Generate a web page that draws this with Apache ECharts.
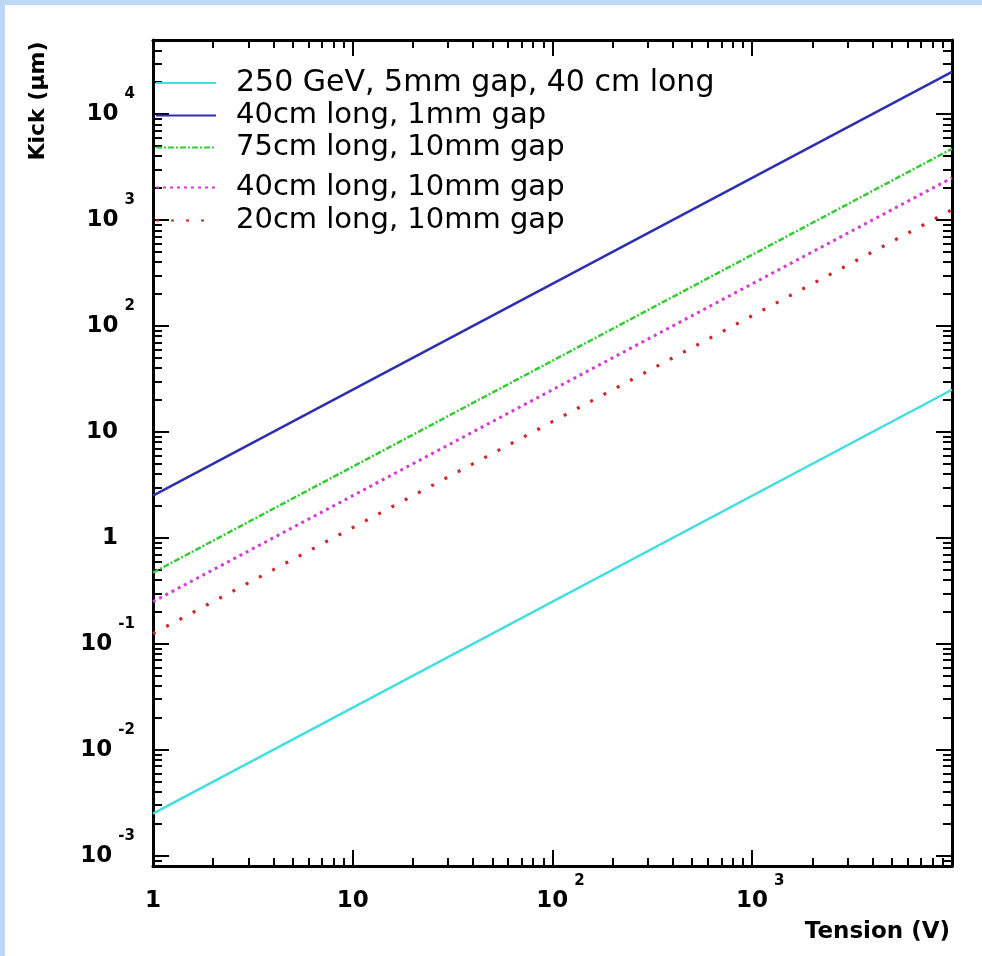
<!DOCTYPE html>
<html><head><meta charset="utf-8">
<script src="https://cdn.jsdelivr.net/npm/echarts@6/dist/echarts.min.js"></script>
<style>html,body{margin:0;padding:0;background:#fff;} #c{width:982px;height:956px;}</style>
</head><body><div id="c"></div>
<script>
// ---- data ----
const tension = [1, 10000];                 // V (x extent of each straight line)
const kick250GeV = [0.0025, 25];            // um
const kick40cm1mm = [2.5, 25000];
const kick75cm10mm = [0.47, 4700];
const kick40cm10mm = [0.25, 2500];
const kick20cm10mm = [0.125, 1250];
const seriesNames = ['250 GeV, 5mm gap, 40 cm long', '40cm long, 1mm gap', '75cm long, 10mm gap', '40cm long, 10mm gap', '20cm long, 10mm gap'];
const xRange = [1, 10000];
const yRange = [0.0008, 50000];
const xMinorTicks = [2,3,4,5,6,7,8,9,20,30,40,50,60,70,80,90,200,300,400,500,600,700,800,900,2000,3000,4000,5000,6000,7000,8000,9000];
const yMinorTicks = [0.0009,0.002,0.003,0.004,0.005,0.006,0.007,0.008,0.009,0.02,0.03,0.04,0.05,0.06,0.07,0.08,0.09,0.2,0.3,0.4,0.5,0.6,0.7,0.8,0.9,2,3,4,5,6,7,8,9,20,30,40,50,60,70,80,90,200,300,400,500,600,700,800,900,2000,3000,4000,5000,6000,7000,8000,9000,20000,30000,40000];

const FONT = 'DejaVu Sans';
const labelRich = {
  bp: {fontFamily: FONT, fontWeight: 'bold', fontSize: 23, color: '#000', lineHeight: 55},
  by: {fontFamily: FONT, fontWeight: 'bold', fontSize: 23, color: '#000', lineHeight: 55, padding: [0, 17, 0, 0]},
  b:  {fontFamily: FONT, fontWeight: 'bold', fontSize: 23, color: '#000', lineHeight: 55},
  bx: {fontFamily: FONT, fontWeight: 'bold', fontSize: 23, color: '#000', lineHeight: 55, padding: [0, 0, 0, 16]},
  s:  {fontFamily: FONT, fontWeight: 'bold', fontSize: 15, color: '#000', lineHeight: 15, padding: [0, 0, 40, 6], verticalAlign: 'middle'}
};
function expOf(v) { return Math.round(Math.log10(v)); }
function xLabel(v) {
  const n = expOf(v);
  if (n === 0) return '{bp|1}';
  if (n === 1) return '{bp|10}';
  return '{bx|10}{s|' + n + '}';
}
function yLabel(v) {
  const n = expOf(v);
  if (n === 0) return '{by|1}';
  if (n === 1) return '{by|10}';
  return '{b|10}{s|' + n + '}';
}

const AX = {color: '#000', width: 3};
function xAxisDef(pos, major) {
  return {
    type: 'log', logBase: 10, position: pos, min: xRange[0], max: xRange[1], splitNumber: 4,
    axisLine: {show: major, onZero: false, lineStyle: AX},
    axisTick: major ? {show: true, inside: true, length: 16, lineStyle: {color: '#000', width: 2}}
                    : {show: true, inside: true, length: 8, customValues: xMinorTicks, lineStyle: {color: '#000', width: 2}},
    axisLabel: (major && pos === 'bottom') ? {show: true, margin: 8, formatter: xLabel, rich: labelRich, showMaxLabel: false} : {show: false},
    splitLine: {show: false}, minorTick: {show: false}
  };
}
function yAxisDef(pos, major) {
  return {
    type: 'log', logBase: 10, position: pos, min: yRange[0], max: yRange[1], splitNumber: 8,
    axisLine: {show: major, onZero: false, lineStyle: AX},
    axisTick: major ? {show: true, inside: true, length: 16, lineStyle: {color: '#000', width: 2}}
                    : {show: true, inside: true, length: 9, customValues: yMinorTicks, lineStyle: {color: '#000', width: 2}},
    axisLabel: (major && pos === 'left') ? {show: true, margin: 18, formatter: yLabel, rich: labelRich, showMinLabel: false, showMaxLabel: false} : {show: false},
    splitLine: {show: false}, minorTick: {show: false}
  };
}

function pairs(ys) { return tension.map((t, i) => [t, ys[i]]); }

const legendText = {fontFamily: FONT, fontSize: 29, color: '#000', padding: [0, 0, 0, 15]};
const option = {
  animation: false,
  backgroundColor: '#fff',
  grid: {left: 153, top: 40, right: 30, bottom: 90, containLabel: false},
  xAxis: [xAxisDef('bottom', true), xAxisDef('bottom', false), xAxisDef('top', true), xAxisDef('top', false)],
  yAxis: [yAxisDef('left', true), yAxisDef('left', false), yAxisDef('right', true), yAxisDef('right', false)],
  legend: [
    {data: [{name: seriesNames[0], textStyle: {fontSize: 30}}, seriesNames[1], seriesNames[2]],
     left: 155, top: 68, orient: 'vertical', itemGap: 3, itemWidth: 60, itemHeight: 14, padding: 0,
     textStyle: legendText, itemStyle: {opacity: 0}},
    {data: seriesNames.slice(3), left: 155, top: 173, orient: 'vertical', itemGap: 4, itemWidth: 60, itemHeight: 14, padding: 0,
     textStyle: legendText, itemStyle: {opacity: 0}}
  ],
  series: [
    {name: seriesNames[0], type: 'line', data: pairs(kick250GeV), symbol: 'none', color: '#40dede', lineStyle: {color: '#40dede', width: 2.5, type: 'solid'}},
    {name: seriesNames[1], type: 'line', data: pairs(kick40cm1mm), symbol: 'none', color: '#2e2eae', lineStyle: {color: '#2e2eae', width: 2.5, type: 'solid'}},
    {name: seriesNames[2], type: 'line', data: pairs(kick75cm10mm), symbol: 'none', color: '#33cc33', lineStyle: {color: '#33cc33', width: 2.5, type: [6, 2, 2, 2]}},
    {name: seriesNames[3], type: 'line', data: pairs(kick40cm10mm), symbol: 'none', color: '#d43cd4', lineStyle: {color: '#d43cd4', width: 3, type: [3, 4]}},
    {name: seriesNames[4], type: 'line', data: pairs(kick20cm10mm), symbol: 'none', color: '#d02828', lineStyle: {color: '#d02828', width: 3.2, type: [3, 12]}}
  ],
  graphic: [
    {type: 'rect', z: -100, shape: {x: 0, y: 0, width: 982, height: 5}, style: {fill: '#bcd8f6'}},
    {type: 'rect', z: -100, shape: {x: 0, y: 0, width: 5, height: 956}, style: {fill: '#bcd8f6'}},
    {type: 'text', x: 38, y: 101, rotation: Math.PI / 2,
     style: {text: 'Kick (\u03bcm)', fill: '#000', font: 'bold 22px "DejaVu Sans"', align: 'center', verticalAlign: 'middle'}},
    {type: 'text', x: 950, y: 932,
     style: {text: 'Tension (V)', fill: '#000', font: 'bold 23px "DejaVu Sans"', align: 'right', verticalAlign: 'middle'}}
  ]
};
const chart = echarts.init(document.getElementById('c'), null, {renderer: 'canvas'});
chart.setOption(option);
</script>
</body></html>
